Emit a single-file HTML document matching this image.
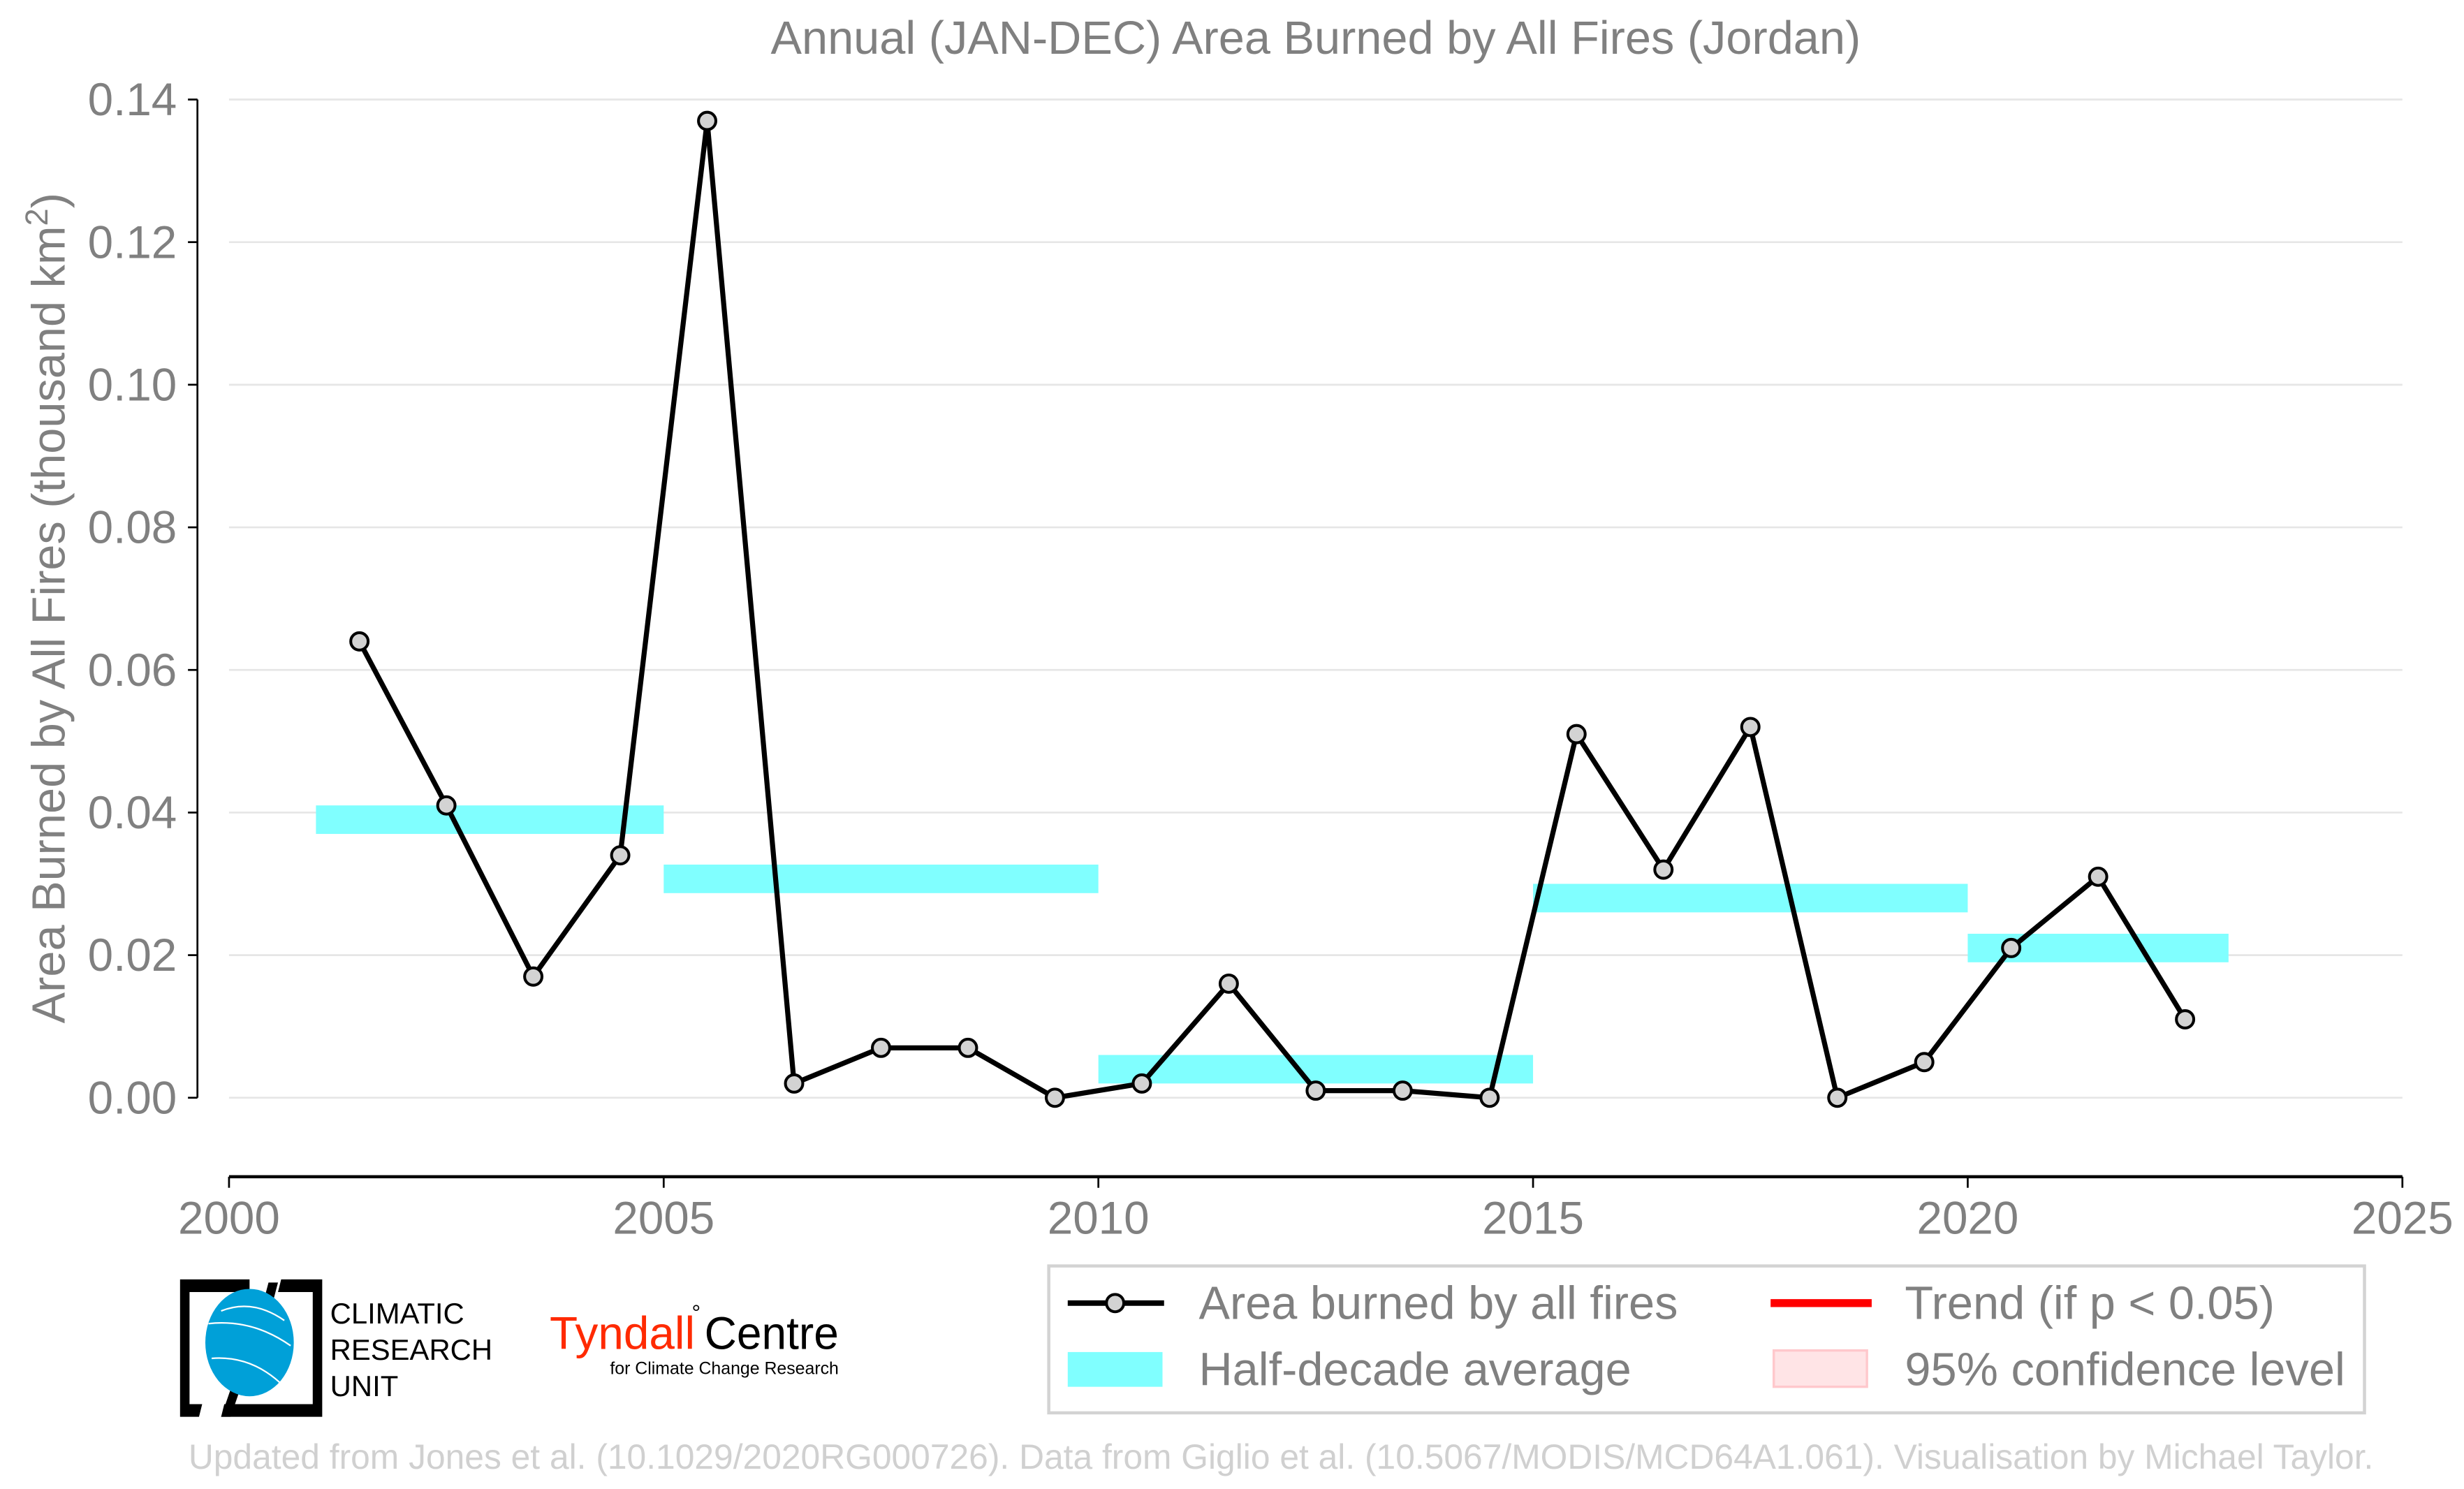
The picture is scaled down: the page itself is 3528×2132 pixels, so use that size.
<!DOCTYPE html>
<html><head><meta charset="utf-8">
<style>html,body{margin:0;padding:0;background:#fff;}svg{display:block;}text{font-family:"Liberation Sans",sans-serif;}</style>
</head><body>
<svg id="chart" width="3528" height="2132" viewBox="0 0 1560 942.7" xmlns="http://www.w3.org/2000/svg">
<rect width="1560" height="942.7" fill="#fff"/>
<text x="833" y="34" text-anchor="middle" font-size="29.5" fill="#808080">Annual (JAN-DEC) Area Burned by All Fires (Jordan)</text>
<g id="grid"></g>
<g id="bars"></g>
<g id="series"></g>
<g id="axes"></g>
<text transform="translate(41,385) rotate(-90)" text-anchor="middle" font-size="29.5" fill="#808080">Area Burned by All Fires (thousand km<tspan dy="-11" font-size="20">2</tspan><tspan dy="11">)</tspan></text>

<g>
<rect x="664" y="801.5" width="833" height="93" fill="#fff" stroke="#d3d3d3" stroke-width="2"/>
<line x1="676" y1="825" x2="737" y2="825" stroke="#000" stroke-width="3.5"/>
<circle cx="706" cy="825" r="5.5" fill="#d3d3d3" stroke="#000" stroke-width="1.8"/>
<text x="759" y="835" font-size="29.5" fill="#808080">Area burned by all fires</text>
<rect x="676" y="856" width="60" height="22" fill="#80ffff"/>
<text x="759" y="877" font-size="29.5" fill="#808080">Half-decade average</text>
<line x1="1121" y1="825" x2="1185" y2="825" stroke="#ff0000" stroke-width="5"/>
<text x="1206" y="835" font-size="29.5" fill="#808080">Trend (if p &lt; 0.05)</text>
<rect x="1123" y="855" width="59" height="23" fill="#ffe4e6" stroke="#ffc8cc" stroke-width="1.5"/>
<text x="1206" y="877" font-size="29.5" fill="#808080">95% confidence level</text>
</g>

<g>
<path d="M114,810 H158 V818 H120 V889 H128 L126,897 H114 Z" fill="#000"/>
<path d="M178,810 H204 V897 H140 L142,889 H198 V818 H176 Z" fill="#000"/>
<path d="M170,812 L176,812 L166,850 L160,850 Z" fill="#000"/>
<path d="M150,868 L156,868 L146,897 L140,897 Z" fill="#000"/>
<ellipse cx="158" cy="850" rx="28" ry="34" fill="#00a0d8"/>
<path d="M132,838 Q160,835 184,852 M134,860 Q160,858 180,878 M140,830 Q160,822 180,836" stroke="#fff" stroke-width="1" fill="none"/>
<text x="209" y="838" font-size="18.5" fill="#000">CLIMATIC</text>
<text x="209" y="861" font-size="18.5" fill="#000">RESEARCH</text>
<text x="209" y="884" font-size="18.5" fill="#000">UNIT</text>
</g>
<g>
<text x="348" y="854" font-size="29" fill="#ff2a00" textLength="92" lengthAdjust="spacingAndGlyphs">Tyndall</text>
<text x="438" y="836" font-size="14" fill="#000">°</text>
<text x="446" y="854" font-size="29" fill="#000" textLength="85" lengthAdjust="spacingAndGlyphs">Centre</text>
<text x="531" y="870" font-size="11" fill="#000" text-anchor="end">for Climate Change Research</text>
</g>
<text x="811" y="930" text-anchor="middle" font-size="22" fill="#d0d0d0">Updated from Jones et al. (10.1029/2020RG000726). Data from Giglio et al. (10.5067/MODIS/MCD64A1.061). Visualisation by Michael Taylor.</text>
</svg>
<script>
const years = [2001,2002,2003,2004,2005,2006,2007,2008,2009,2010,2011,2012,2013,2014,2015,2016,2017,2018,2019,2020,2021,2022];
const values = [0.064,0.041,0.017,0.034,0.137,0.002,0.007,0.007,0.000,0.002,0.016,0.001,0.001,0.000,0.051,0.032,0.052,0.000,0.005,0.021,0.031,0.011];
const halfStart = [2001,2005,2010,2015,2020];
const halfEnd = [2005,2010,2015,2020,2023];
const halfAvg = [0.039,0.0307,0.004,0.028,0.021];
const yTicks = [0,0.02,0.04,0.06,0.08,0.10,0.12,0.14];
const yTickLabels = ["0.00","0.02","0.04","0.06","0.08","0.10","0.12","0.14"];
const xTicks = [2000,2005,2010,2015,2020,2025];
const xTickLabels = ["2000","2005","2010","2015","2020","2025"];

const NS="http://www.w3.org/2000/svg";
const X = v => 145 + (v-2000)*(1521-145)/25;
const Y = v => 695 - v*(695-63)/0.14;
function mk(tag, attrs, parent){const e=document.createElementNS(NS,tag);for(const k in attrs)e.setAttribute(k,attrs[k]);document.getElementById(parent).appendChild(e);return e;}

yTicks.forEach((t,i)=>{
  const g=mk('line',{x1:145,x2:1521,y1:Y(t),y2:Y(t),stroke:'#e6e6e6','stroke-width':1.2},'grid');
  
  
  const tk=mk('line',{x1:119,x2:125,y1:Y(t),y2:Y(t),stroke:'#000','stroke-width':1.2},'axes');
  
  
  const lb=mk('text',{x:112,y:Y(t)+10,'text-anchor':'end','font-size':29,fill:'#808080'},'axes');
  lb.textContent=yTickLabels[i];
  
  
});
const ya=mk('line',{x1:125,x2:125,y1:Y(0.14),y2:Y(0),stroke:'#000','stroke-width':1.2},'axes');


const xa=mk('line',{x1:145,x2:1521,y1:745,y2:745,stroke:'#000','stroke-width':2},'axes');


xTicks.forEach((t,i)=>{
  const tk=mk('line',{x1:X(t),x2:X(t),y1:745,y2:752,stroke:'#000','stroke-width':1.2},'axes');
  
  
  const lb=mk('text',{x:X(t),y:781,'text-anchor':'middle','font-size':29,fill:'#808080'},'axes');
  lb.textContent=xTickLabels[i];
  
  
});
halfAvg.forEach((v,i)=>{
  const r=mk('rect',{x:X(halfStart[i]),width:X(halfEnd[i])-X(halfStart[i]),y:Y(v+0.002),height:Y(v-0.002)-Y(v+0.002),fill:'#80ffff'},'bars');
  
  
});
const pts=years.map((y,i)=>X(y+0.5)+','+Y(values[i])).join(' ');
const pl=mk('polyline',{points:pts,fill:'none',stroke:'#000','stroke-width':3.2,'stroke-linejoin':'round'},'series');


years.forEach((y,i)=>{
  const c=mk('circle',{cx:X(y+0.5),cy:Y(values[i]),r:5.5,fill:'#d3d3d3',stroke:'#000','stroke-width':1.8},'series');
  
  
});
</script>
</body></html>
